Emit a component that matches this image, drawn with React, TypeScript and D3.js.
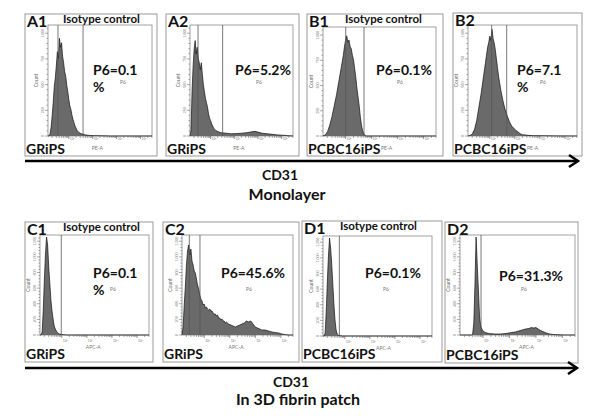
import React from "react";
import * as d3 from "d3";

// ---------- data (x: % of channel range, y: % of count full-scale) ----------
const histA1: [number, number][] = [[0,0],[1,0],[2,2],[3,8],[4,18],[5,30],[6,44],[7,52],[8,63],[9,76],[10,70],[11,88],[12,80],[13,84],[14,72],[15,66],[16,58],[17,54],[18,46],[19,40],[20,33],[21,27],[22,24],[23,19],[24,15],[25,12],[26,9],[27,7],[28,5],[29,4],[30,3],[32,2],[34,1.5],[36,1],[38,0.8],[40,0.5],[44,0.3],[50,0.2],[60,0],[100,0]];
const histA2: [number, number][] = [[0,0],[1,5],[2,40],[3,62],[4,78],[5,86],[6,74],[7,80],[8,70],[9,66],[10,60],[11,66],[12,55],[13,46],[14,40],[15,34],[16,30],[17,26],[18,20],[19,16],[20,14],[21,11],[22,9],[23,7],[25,5],[27,4],[30,3],[35,2.5],[40,2],[45,2.2],[50,2.5],[55,3],[60,3.8],[63,4.2],[66,3.5],[70,2.5],[75,2],[80,1.5],[85,1],[90,0.7],[95,0.3],[100,0]];
const histB1: [number, number][] = [[0,0],[1,0.5],[2,1],[4,4],[6,10],[8,18],[10,28],[12,38],[14,50],[16,62],[18,74],[19,82],[20,88],[21,92],[22,86],[23,88],[24,82],[25,80],[26,74],[27,70],[28,62],[29,54],[30,44],[31,36],[32,28],[33,18],[34,10],[35,5],[36,2],[37,0.5],[38,0],[100,0]];
const histB2: [number, number][] = [[0,0],[2,0.5],[4,2],[6,6],[8,14],[10,26],[12,38],[14,52],[16,66],[18,80],[19,84],[20,90],[21,86],[22,96],[23,88],[24,84],[25,78],[26,70],[27,62],[28,54],[29,48],[30,42],[32,32],[34,24],[36,18],[38,13],[40,9],[42,7],[44,5],[46,3.5],[48,2],[50,1.2],[55,0.6],[60,0.3],[70,0.2],[80,0.1],[100,0]];
const histC1: [number, number][] = [[0,0],[1,0],[2,3],[3,25],[4,55],[5,80],[6,98],[7,90],[8,68],[9,52],[10,35],[11,24],[12,16],[13,9],[14,6],[15,4],[16,2.5],[17,1.5],[18,1],[20,0.4],[22,0.2],[25,0],[100,0]];
const histC2: [number, number][] = [[0,0],[1,8],[2,30],[3,48],[4,70],[5,84],[6,90],[7,80],[8,86],[9,74],[10,70],[11,64],[12,62],[13,56],[14,50],[15,46],[16,40],[17,36],[18,34],[19,30],[20,31],[21,27],[22,28],[23,26],[24,25],[25,26],[26,24],[27,24],[28,22],[29,21],[30,21],[31,19],[32,20],[33,17],[34,17],[35,15],[36,16],[37,14],[38,14],[39,12],[40,13],[42,11],[44,10],[46,9],[48,8],[50,9],[52,10],[54,11],[56,12],[58,14],[60,13],[62,14],[64,11],[66,8],[68,7],[70,6],[72,5],[75,5],[78,4],[81,3],[84,2.5],[87,2],[90,1],[93,0.3],[96,0],[100,0]];
const histD1: [number, number][] = [[0,0],[1,0],[2,3],[3,25],[4,55],[5,80],[6,98],[7,88],[8,72],[9,52],[10,32],[11,16],[12,6],[13,2],[14,0.8],[16,0.3],[18,0],[100,0]];
const histD2: [number, number][] = [[0,0],[10,0],[11,1],[12,12],[13,50],[14,98],[15,70],[16,45],[17,18],[18,9],[19,6],[20,4],[22,2.5],[25,1.5],[30,1],[35,1],[40,1.5],[45,2.5],[48,3],[51,4],[54,5],[57,6],[60,6.5],[62,7.5],[64,7],[66,7.5],[68,6],[70,4.5],[72,3.5],[75,2],[78,1],[81,0.5],[85,0.2],[90,0],[100,0]];

const panelIds = ["A1","A2","B1","B2","C1","C2","D1","D2"];
const cellNames = ["GRiPS","GRiPS","PCBC16iPS","PCBC16iPS","GRiPS","GRiPS","PCBC16iPS","PCBC16iPS"];
const isotype = [true,false,true,false,true,false,true,false];
const p6Lines: string[][] = [["P6=0.1","%"],["P6=5.2%"],["P6=0.1%"],["P6=7.1","%"],["P6=0.1","%"],["P6=45.6%"],["P6=0.1%"],["P6=31.3%"]];
const gates: number[][] = [[9.6,33.7],[7.8,31.7],[20.1,36.3],[21.7,35.5],[19.5],[6.6,16.2],[15],[18.3]];
const axisNames = ["PE-A","PE-A","PE-A","PE-A","APC-A","APC-A","APC-A","APC-A"];
const yTickLabelsTop = ["0","250","500","750","1,000"];
const yTickLabelsBottom = ["0","200","400","600","800","1,000","1,200"];
const xDecadeLabels = ["10²","10³","10⁴","10⁵"];
const hists = [histA1,histA2,histB1,histB2,histC1,histC2,histD1,histD2];

// ---------- layout ----------
type Box = [number, number, number, number];
const boxes: Box[] = [
  [25,14,157,156],[166,14,299,156],[307,14,443,156],[453,13,582,156],
  [25,222,153,362],[163,222,299,362],[302,221,442,362],[445,222,578,363],
];
const plots: Box[] = [
  [48,25,152,136],[190,25,293,136],[323,27,436,136],[468,25,577,136],
  [40,235,149,335],[182,235,293,335],[323,236,432,336],[460,235,575,335],
];
const p6Pos: [number, number][] = [[93,75],[235,75],[376,75],[517,75],[93,278],[221,278],[365,278],[499,281]];
const p6Small: [number, number][] = [[120,84],[256,84],[397,84],[540,84],[110,291],[246,291],[383,291],[521,291]];

const FONT = "Lato, 'Open Sans', sans-serif";

function Panel({ i }: { i: number }) {
  const [bx0, by0, bx1, by1] = boxes[i];
  const [px0, py0, px1, py1] = plots[i];
  const x = d3.scaleLinear().domain([0, 100]).range([px0, px1]);
  const y = d3.scaleLinear().domain([0, 100]).range([py1, py0]);
  const area = d3.area<[number, number]>().x(d => x(d[0])).y0(py1).y1(d => y(d[1]));
  const line = d3.line<[number, number]>().x(d => x(d[0])).y(d => y(d[1]));
  const top = i < 4;
  const yLabels = top ? yTickLabelsTop : yTickLabelsBottom;
  const yMax = top ? 1080 : 1280;
  const yl = d3.scaleLinear().domain([0, yMax]).range([py1, py0]);
  const yStep = top ? 250 : 200;
  const minorY = d3.range(0, yMax, yStep / 5);
  const decPos = [20, 43, 66, 89];
  const minorX: number[] = [];
  [-3, ...decPos].forEach((d) => {
    for (let m = 2; m <= 9; m++) {
      const v = d + Math.log10(m) * 23;
      if (v > 0 && v < 100) minorX.push(v);
    }
  });
  const isoX = bx0 + 38;
  const longName = cellNames[i].length > 6;
  const axisX = longName ? bx0 + 74 : px0 + (px1 - px0) * 0.42;
  const tickLabelY = top ? py1 + 4 : py1 + 7;
  const nameY = top ? by1 - 2 : by1 - 3;
  return (
    <g>
      <rect x={bx0} y={by0} width={bx1 - bx0} height={by1 - by0} fill="#fff" stroke="#9a9a9a" strokeWidth={1} />
      <rect x={px0} y={py0} width={px1 - px0} height={py1 - py0} fill="#fff" stroke="#8a8a8a" strokeWidth={0.8} />
      <path d={area(hists[i]) || ""} fill="#6a6a6a" />
      <path d={line(hists[i]) || ""} fill="none" stroke="#111" strokeWidth={0.7} />
      {gates[i].map((g, k) => (
        <line key={k} x1={x(g)} x2={x(g)} y1={py0} y2={py1} stroke="#555" strokeWidth={0.8} />
      ))}
      {minorY.map((v, k) => (
        <line key={k} x1={px0 - (k % 5 === 0 ? 3 : 1.5)} x2={px0} y1={yl(v)} y2={yl(v)} stroke="#555" strokeWidth={0.5} />
      ))}
      {yLabels.map((t, k) => (
        <text key={t} x={0} y={0} fontSize={3.5} fill="#777" fontFamily={FONT} textAnchor="middle"
          transform={`translate(${px0 - 4},${yl(k * yStep)}) rotate(-90)`}>{t}</text>
      ))}
      <text x={0} y={0} fontSize={5} fill="#666" fontFamily={FONT} textAnchor="middle"
        transform={`translate(${px0 - 10},${(py0 + py1) / 2}) rotate(-90)`}>Count</text>
      {minorX.map((v, k) => (
        <line key={k} x1={x(v)} x2={x(v)} y1={py1} y2={py1 + 2} stroke="#555" strokeWidth={0.5} />
      ))}
      {decPos.map((v, k) => (
        <g key={k}>
          <line x1={x(v)} x2={x(v)} y1={py1} y2={py1 + 3} stroke="#444" strokeWidth={0.6} />
          <text x={x(v) + 1} y={tickLabelY} fontSize={3.2} fill="#777" fontFamily={FONT}>{xDecadeLabels[k]}</text>
        </g>
      ))}
      <text x={axisX} y={py1 + 14} fontSize={5} fill="#777" fontFamily={FONT}>{axisNames[i]}</text>
      <text x={bx0 + 2} y={by0 + 13} fontSize={16} fontWeight="bold" fontFamily={FONT} fill="#111">{panelIds[i]}</text>
      {isotype[i] && (
        <text x={isoX} y={by0 + 9} fontSize={11.5} fontWeight="bold" fontFamily={FONT} fill="#111">Isotype control</text>
      )}
      {p6Lines[i].map((t, k) => (
        <text key={k} x={p6Pos[i][0]} y={p6Pos[i][1] + k * 16.5} fontSize={14} fontWeight="bold" fontFamily={FONT} fill="#111">{t}</text>
      ))}
      <text x={p6Small[i][0]} y={p6Small[i][1]} fontSize={5} fill="#777" fontFamily={FONT}>P6</text>
      <text x={bx0 + 1} y={nameY} fontSize={14} fontWeight="bold" fontFamily={FONT} fill="#111">{cellNames[i]}</text>
    </g>
  );
}

function Arrow({ y, x0, x1 }: { y: number; x0: number; x1: number }) {
  return (
    <g>
      <line x1={x0} x2={x1} y1={y} y2={y} stroke="#000" strokeWidth={2.5} />
      <path d={`M${x1 - 9},${y - 6} L${x1},${y} L${x1 - 9},${y + 6}`} fill="none" stroke="#000" strokeWidth={2.5} />
    </g>
  );
}

export default function App() {
  return (
    <svg width={600} height={420} style={{ position: "absolute", left: 0, top: 0, background: "#fff" }}>
      <rect width={600} height={420} fill="#fff" />
      {panelIds.map((_, i) => <Panel key={i} i={i} />)}
      <Arrow y={161} x0={25} x1={578} />
      <Arrow y={368} x0={25} x1={577} />
      <text x={280} y={180} fontSize={14} fontWeight="bold" textAnchor="middle" fontFamily={FONT} fill="#111">CD31</text>
      <text x={287} y={200} fontSize={16} fontWeight="bold" textAnchor="middle" fontFamily={FONT} fill="#111">Monolayer</text>
      <text x={291} y={387} fontSize={14} fontWeight="bold" textAnchor="middle" fontFamily={FONT} fill="#111">CD31</text>
      <text x={298} y={405} fontSize={16} fontWeight="bold" textAnchor="middle" fontFamily={FONT} fill="#111">In 3D fibrin patch</text>
    </svg>
  );
}
